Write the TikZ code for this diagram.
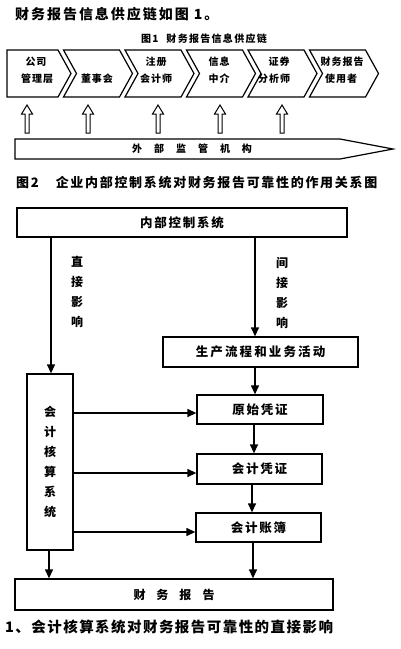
\documentclass[tikz,border=0pt]{standalone}
\usepackage{fontspec}
\newfontfamily\cjk{Noto Sans CJK SC}
\usetikzlibrary{arrows.meta}
\tikzset{
  lbl/.style={font=\cjk\bfseries\fontsize{#1}{#1}\selectfont, inner sep=0pt, align=center},
  lsp/.style 2 args={font=\cjk\bfseries\fontsize{#1}{#1}\selectfont\addfontfeature{LetterSpace=#2}, inner sep=0pt, align=center},
  chev/.style={draw, line width=1.2pt, line join=miter},
  box/.style={draw, line width=1.3pt},
  flow/.style={line width=1.3pt, -{Triangle[length=9pt,width=8pt]}},
  hollow/.style={draw, line width=1pt, line join=miter},
}
\begin{document}
\begin{tikzpicture}[x=1pt,y=-1pt]
\useasboundingbox (0,0) rectangle (400,649);
% title
\node[lsp={14}{14}, anchor=west] (title) at (15,14) {财务报告信息供应链如图 1。};
\node[lsp={10}{13}] (cap1) at (204,39) {图1\hspace{8pt}财务报告信息供应链};
% chevrons
\draw[chev] (7,50) -- (58,50) -- (71,73.5) -- (58,97) -- (7,97) -- cycle;
\foreach \k in {1,...,5}{
  \pgfmathsetmacro{\r}{58+61.5*\k}
  \draw[chev] (\r-56,50) -- (\r,50) -- (\r+13,73.5) -- (\r,97) -- (\r-56,97) -- (\r-43,73.5) -- cycle;
}
\node[lsp={10}{10}] (c1a) at (36,62) {公司};
\node[lsp={10}{10}] (c1b) at (37,79) {管理层};
\node[lsp={10}{10}] (c2) at (97,79) {董事会};
\node[lsp={10}{10}] (c3a) at (156,62) {注册};
\node[lsp={10}{10}] (c3b) at (156,79) {会计师};
\node[lsp={10}{10}] (c4a) at (219,62) {信息};
\node[lsp={10}{10}] (c4b) at (219,79) {中介};
\node[lsp={10}{10}] (c5a) at (279,62) {证券};
\node[lsp={10}{10}] (c5b) at (274,79) {分析师};
\node[lsp={10}{10}] (c6a) at (342,62) {财务报告};
\node[lsp={10}{10}] (c6b) at (341,79) {使用者};
% hollow arrows
\foreach \x in {27,88,158,220,282}{
  \draw[hollow] (\x-2,133) -- (\x-2,114) -- (\x-5.5,114) -- (\x,105) -- (\x+5.5,114) -- (\x+2,114) -- (\x+2,133) -- cycle;
}
% supervision bar
\draw[chev] (15,139) -- (340,139) -- (393,149) -- (340,159) -- (15,159) -- cycle;
\node[lbl=10] (sup) at (192,149) {外\hspace{12pt}部\hspace{12pt}监\hspace{12pt}管\hspace{12pt}机\hspace{12pt}构};
% figure 2 caption
\node[lsp={13}{13}, anchor=west] (cap2) at (16,183) {图2\hspace{17pt}企业内部控制系统对财务报告可靠性的作用关系图};
% boxes
\node[box, minimum width=330pt, minimum height=29pt, inner sep=0pt] (nbkz) at (182,222.5) {};
\node[lsp={12.5}{14}] at (nbkz.center) {内部控制系统};
\node[box, minimum width=195pt, minimum height=30pt, inner sep=0pt] (sclc) at (260.5,352) {};
\node[lsp={12.5}{17}] at (sclc.center) {生产流程和业务活动};
\node[box, minimum width=46pt, minimum height=176pt, inner sep=0pt] (kjhs) at (50,462) {};
\node[lbl=12, text width=12pt] at (kjhs.center) {会\\[8pt]计\\[8pt]核\\[8pt]算\\[8pt]系\\[8pt]统};
\node[box, minimum width=126pt, minimum height=29pt, inner sep=0pt] (yspz) at (260,409.5) {};
\node[lsp={12.5}{14}] at (yspz.center) {原始凭证};
\node[box, minimum width=125pt, minimum height=30pt, inner sep=0pt] (kjpz) at (259.5,469) {};
\node[lsp={12.5}{14}] at (kjpz.center) {会计凭证};
\node[box, minimum width=125pt, minimum height=29pt, inner sep=0pt] (kjzb) at (258.5,527.5) {};
\node[lsp={12.5}{14}] at (kjzb.center) {会计账簿};
\node[box, minimum width=318pt, minimum height=31pt, inner sep=0pt] (cwbg) at (174,594.5) {};
\node[lbl=12] at (cwbg.center) {财\hspace{11pt}务\hspace{11pt}报\hspace{11pt}告};
% labels
\node[lbl=12, text width=12pt] (zj) at (77,292) {直\\[8pt]接\\[8pt]影\\[8pt]响};
\node[lbl=12, text width=12pt] (jj) at (282,293) {间\\[8pt]接\\[8pt]影\\[8pt]响};
% connectors
\draw[flow] (nbkz.south -| 51,0) -- (kjhs.north -| 51,0);
\draw[flow] (nbkz.south -| 255,0) -- (sclc.north -| 255,0);
\draw[flow] (sclc.south -| 255,0) -- (yspz.north -| 255,0);
\draw[flow] (yspz.south -| 254,0) -- (kjpz.north -| 254,0);
\draw[flow] (kjpz.south -| 252,0) -- (kjzb.north -| 252,0);
\draw[flow] (kjzb.south -| 253,0) -- (cwbg.north -| 253,0);
\draw[flow] (kjhs.south -| 49,0) -- (cwbg.north -| 49,0);
\draw[flow] (kjhs.east |- 0,413) -- (yspz.west |- 0,413);
\draw[flow] (kjhs.east |- 0,473) -- (kjpz.west |- 0,473);
\draw[flow] (kjhs.east |- 0,532) -- (kjzb.west |- 0,532);
% bottom caption
\node[lsp={14.5}{10}, anchor=west] (cap3) at (5,627) {1、会计核算系统对财务报告可靠性的直接影响};
\end{tikzpicture}
\end{document}
